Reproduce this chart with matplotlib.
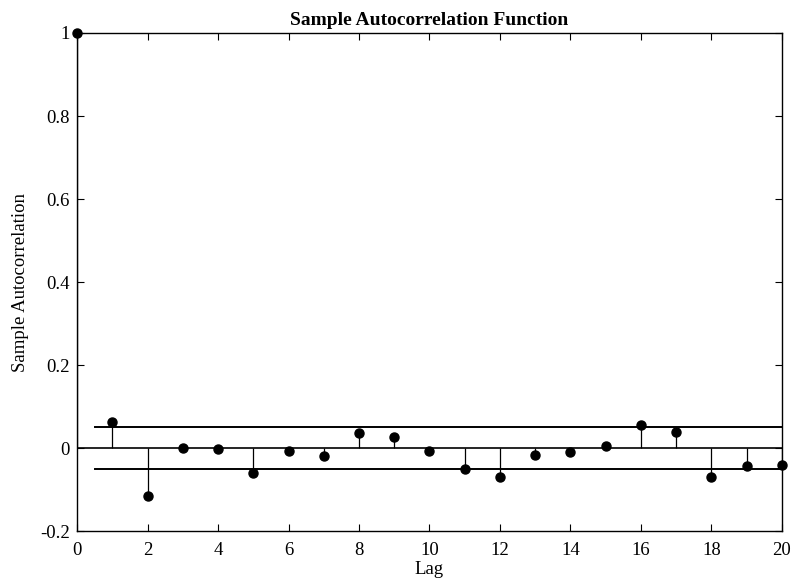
import matplotlib.pyplot as plt
import numpy as np

plt.rcParams['font.family'] = ['Liberation Serif', 'DejaVu Serif']

lags = np.arange(0, 21)
acf = [1.0, 0.063, -0.115, 0.0, -0.003, -0.060, -0.008, -0.020, 0.036, 0.027,
       -0.006, -0.051, -0.069, -0.016, -0.010, 0.006, 0.055, 0.039, -0.071,
       -0.043, -0.041]
bound = 0.051

xticks = list(range(0, 21, 2))
yticks = [-0.2, 0, 0.2, 0.4, 0.6, 0.8, 1]
ytick_labels = ['-0.2', '0', '0.2', '0.4', '0.6', '0.8', '1']

fig = plt.figure(figsize=(7.95, 5.82), dpi=100)
ax = fig.add_axes([0.0969, 0.0876, 0.8867, 0.8557])

# stems from zero to each value
ax.vlines(lags, 0, acf, colors='black', linewidth=0.9)
ax.plot(lags, acf, 'o', color='black', markersize=6.5, clip_on=False, zorder=5)

# zero line and confidence bounds
ax.plot([0, 20], [0, 0], color='black', linewidth=1.2)
ax.plot([0.5, 20], [bound, bound], color='black', linewidth=1.4)
ax.plot([0.5, 20], [-bound, -bound], color='black', linewidth=1.4)

ax.set_xlim(0, 20)
ax.set_ylim(-0.2, 1)
ax.set_xticks(xticks)
ax.set_yticks(yticks)
ax.set_yticklabels(ytick_labels)
ax.tick_params(direction='in', top=True, right=True, length=5, width=0.8,
               labelsize=13.5, colors='black')
ax.tick_params(axis='x', pad=8)
ax.tick_params(axis='y', pad=5)
for s in ax.spines.values():
    s.set_linewidth(1.0)

ax.set_title('Sample Autocorrelation Function', fontsize=14, fontweight='bold', pad=6)
ax.set_xlabel('Lag', fontsize=13.5, labelpad=1)
ax.set_ylabel('Sample Autocorrelation', fontsize=13.5, labelpad=8)

fig.savefig('out.png', dpi=100)
